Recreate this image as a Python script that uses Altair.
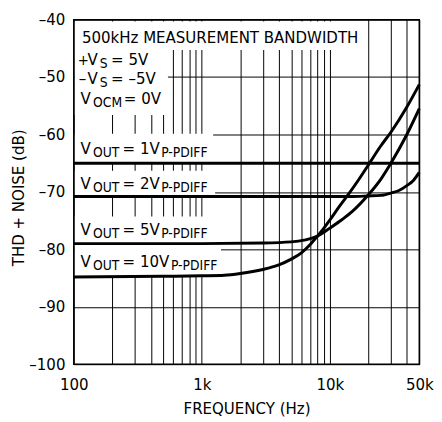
import altair as alt
import pandas as pd

FONT = "'DejaVu Sans Condensed', 'DejaVu Sans', sans-serif"
MAIN = 17
SUB = 14

# ---- curve data (frequency in Hz, THD+N in dB) ----
freq_1v = [100, 1000, 10000, 20000, 30000, 40000, 50000]
thd_1v = [-65.0, -65.0, -65.0, -65.0, -65.0, -65.0, -65.0]

freq_2v = [100, 1000, 10000, 15000, 20000, 25000, 30000, 35000, 40000, 45000, 50000]
thd_2v = [-70.8, -70.8, -70.8, -70.8, -70.7, -70.6, -70.2, -69.7, -68.9, -68.0, -66.6]

freq_5v = [100, 1000, 3000, 5000, 6300, 8000, 10000, 12500, 15000, 20000, 25000, 30000, 40000, 50000]
thd_5v = [-79.0, -79.0, -78.9, -78.7, -78.4, -77.7, -76.3, -74.8, -73.4, -70.5, -67.8, -65.0, -60.0, -55.5]

freq_10v = [100, 500, 1000, 1500, 2000, 3000, 4000, 5000, 6000, 7000, 8000, 9000, 10000,
            12000, 14000, 17000, 20000, 25000, 30000, 40000, 50000]
thd_10v = [-84.8, -84.7, -84.6, -84.5, -84.2, -83.5, -82.7, -81.7, -80.6, -79.2, -77.7, -76.3, -74.9,
           -72.4, -70.4, -67.7, -65.3, -62.0, -59.6, -55.2, -51.3]

series_names = ["1V", "2V", "5V", "10V"]

# ---- axis ticks ----
x_grid = [100, 200, 300, 400, 500, 600, 700, 800, 900,
          1000, 2000, 3000, 4000, 5000, 6000, 7000, 8000, 9000,
          10000, 20000, 30000, 40000, 50000]
y_ticks = [-100, -90, -80, -70, -60, -50, -40]

# ---- annotation text pieces: text, freq anchor, dB baseline, font size ----
ann_text = ["500kHz MEASUREMENT BANDWIDTH",
            "+", "V", "S", "= 5V",
            "\u2013", "V", "S", "= \u20135V",
            "V", "OCM", "= 0V",
            "V", "OUT", "= 1V", "P-PDIFF",
            "V", "OUT", "= 2V", "P-PDIFF",
            "V", "OUT", "= 5V", "P-PDIFF",
            "V", "OUT", "= 10V", "P-PDIFF"]
ann_freq = [115.8,
            107.3, 128.1, 159.7, 195.7,
            109.2, 128.1, 159.7, 195.7,
            113.1, 141.6, 246.0,
            113.1, 141.6, 240.6, 481.4,
            113.1, 141.6, 240.6, 481.4,
            113.1, 141.6, 240.6, 481.4,
            113.1, 141.6, 240.6, 574.3]
ann_db = [-43.98,
          -47.91, -47.91, -48.42, -47.91,
          -51.16, -51.16, -51.67, -51.16,
          -54.75, -55.26, -54.75,
          -63.47, -63.98, -63.47, -63.98,
          -69.45, -69.96, -69.45, -69.96,
          -77.44, -77.95, -77.44, -77.95,
          -83.13, -83.64, -83.13, -83.64]
ann_size = [MAIN,
            15, MAIN, SUB, MAIN,
            MAIN, MAIN, SUB, MAIN,
            MAIN, SUB, MAIN,
            MAIN, SUB, MAIN, SUB,
            MAIN, SUB, MAIN, SUB,
            MAIN, SUB, MAIN, SUB,
            MAIN, SUB, MAIN, SUB]

# ---- white label backgrounds (freq range, dB range) ----
box_f1 = [102, 102, 102, 102, 102, 102]
box_f2 = [17700, 544, 1227, 1271, 1271, 1413]
box_d1 = [-40.3, -45.3, -59.85, -66.3, -74.3, -79.0]
box_d2 = [-45.3, -56.6, -64.8, -70.8, -79.0, -84.8]

rows = []
for name, fs, vs in zip(series_names, [freq_1v, freq_2v, freq_5v, freq_10v],
                        [thd_1v, thd_2v, thd_5v, thd_10v]):
    for f, v in zip(fs, vs):
        rows.append({"series": name, "freq": f, "db": v})
curves = pd.DataFrame(rows)
ann = pd.DataFrame({"label": ann_text, "freq": ann_freq, "db": ann_db, "size": ann_size})
boxes = pd.DataFrame({"freq": box_f1, "freq2": box_f2, "db": box_d1, "db2": box_d2})

label_expr = ("datum.value == 100 ? '100' : datum.value == 1000 ? '1k' : "
              "datum.value == 10000 ? '10k' : datum.value == 50000 ? '50k' : ''")

x_enc = alt.X("freq:Q",
              scale=alt.Scale(type="log", domain=[100, 50000], nice=False),
              axis=alt.Axis(values=x_grid, labelExpr=label_expr, title="FREQUENCY (Hz)",
                            grid=True, ticks=False, domain=False, labelFlush=False,
                            labelOverlap=False, labelPadding=26, labelBaseline="alphabetic",
                            titleX=176, titleY=50, titleBaseline="alphabetic", titleAlign="center"))
y_enc = alt.Y("db:Q",
              scale=alt.Scale(domain=[-100, -40], nice=False),
              axis=alt.Axis(values=y_ticks, labelExpr="'\u2013' + abs(datum.value)",
                            title="THD + NOISE (dB)", grid=True, ticks=False, domain=False,
                            labelFlush=False, labelOverlap=False, labelPadding=9,
                            titleAngle=270, titleX=-56, titleY=181,
                            titleBaseline="middle", titleAlign="center"))

rects = alt.Chart(boxes).mark_rect(color="white", opacity=1).encode(
    x=x_enc, x2="freq2:Q", y=y_enc, y2="db2:Q")

lines = alt.Chart(curves).mark_line(color="black", strokeWidth=3, interpolate="monotone").encode(
    x="freq:Q", y="db:Q", detail="series:N")

texts = alt.Chart(ann).mark_text(align="left", baseline="alphabetic", font=FONT,
                                 color="black").encode(
    x="freq:Q", y="db:Q", text="label:N", size=alt.Size("size:Q", scale=None))

chart = alt.layer(rects, lines, texts).properties(
    width=352, height=351,
    autosize=alt.AutoSizeParams(type="none"),
    padding={"left": 67, "top": 8, "right": 15, "bottom": 55},
).configure_view(
    stroke="black", strokeWidth=1.5
).configure_axis(
    gridColor="black", gridWidth=1, gridOpacity=1,
    labelFont=FONT, labelFontSize=MAIN, labelColor="black",
    titleFont=FONT, titleFontSize=MAIN, titleFontWeight="normal", titleColor="black",
)

chart.save("out.html", embed_options={"renderer": "svg", "actions": False})
